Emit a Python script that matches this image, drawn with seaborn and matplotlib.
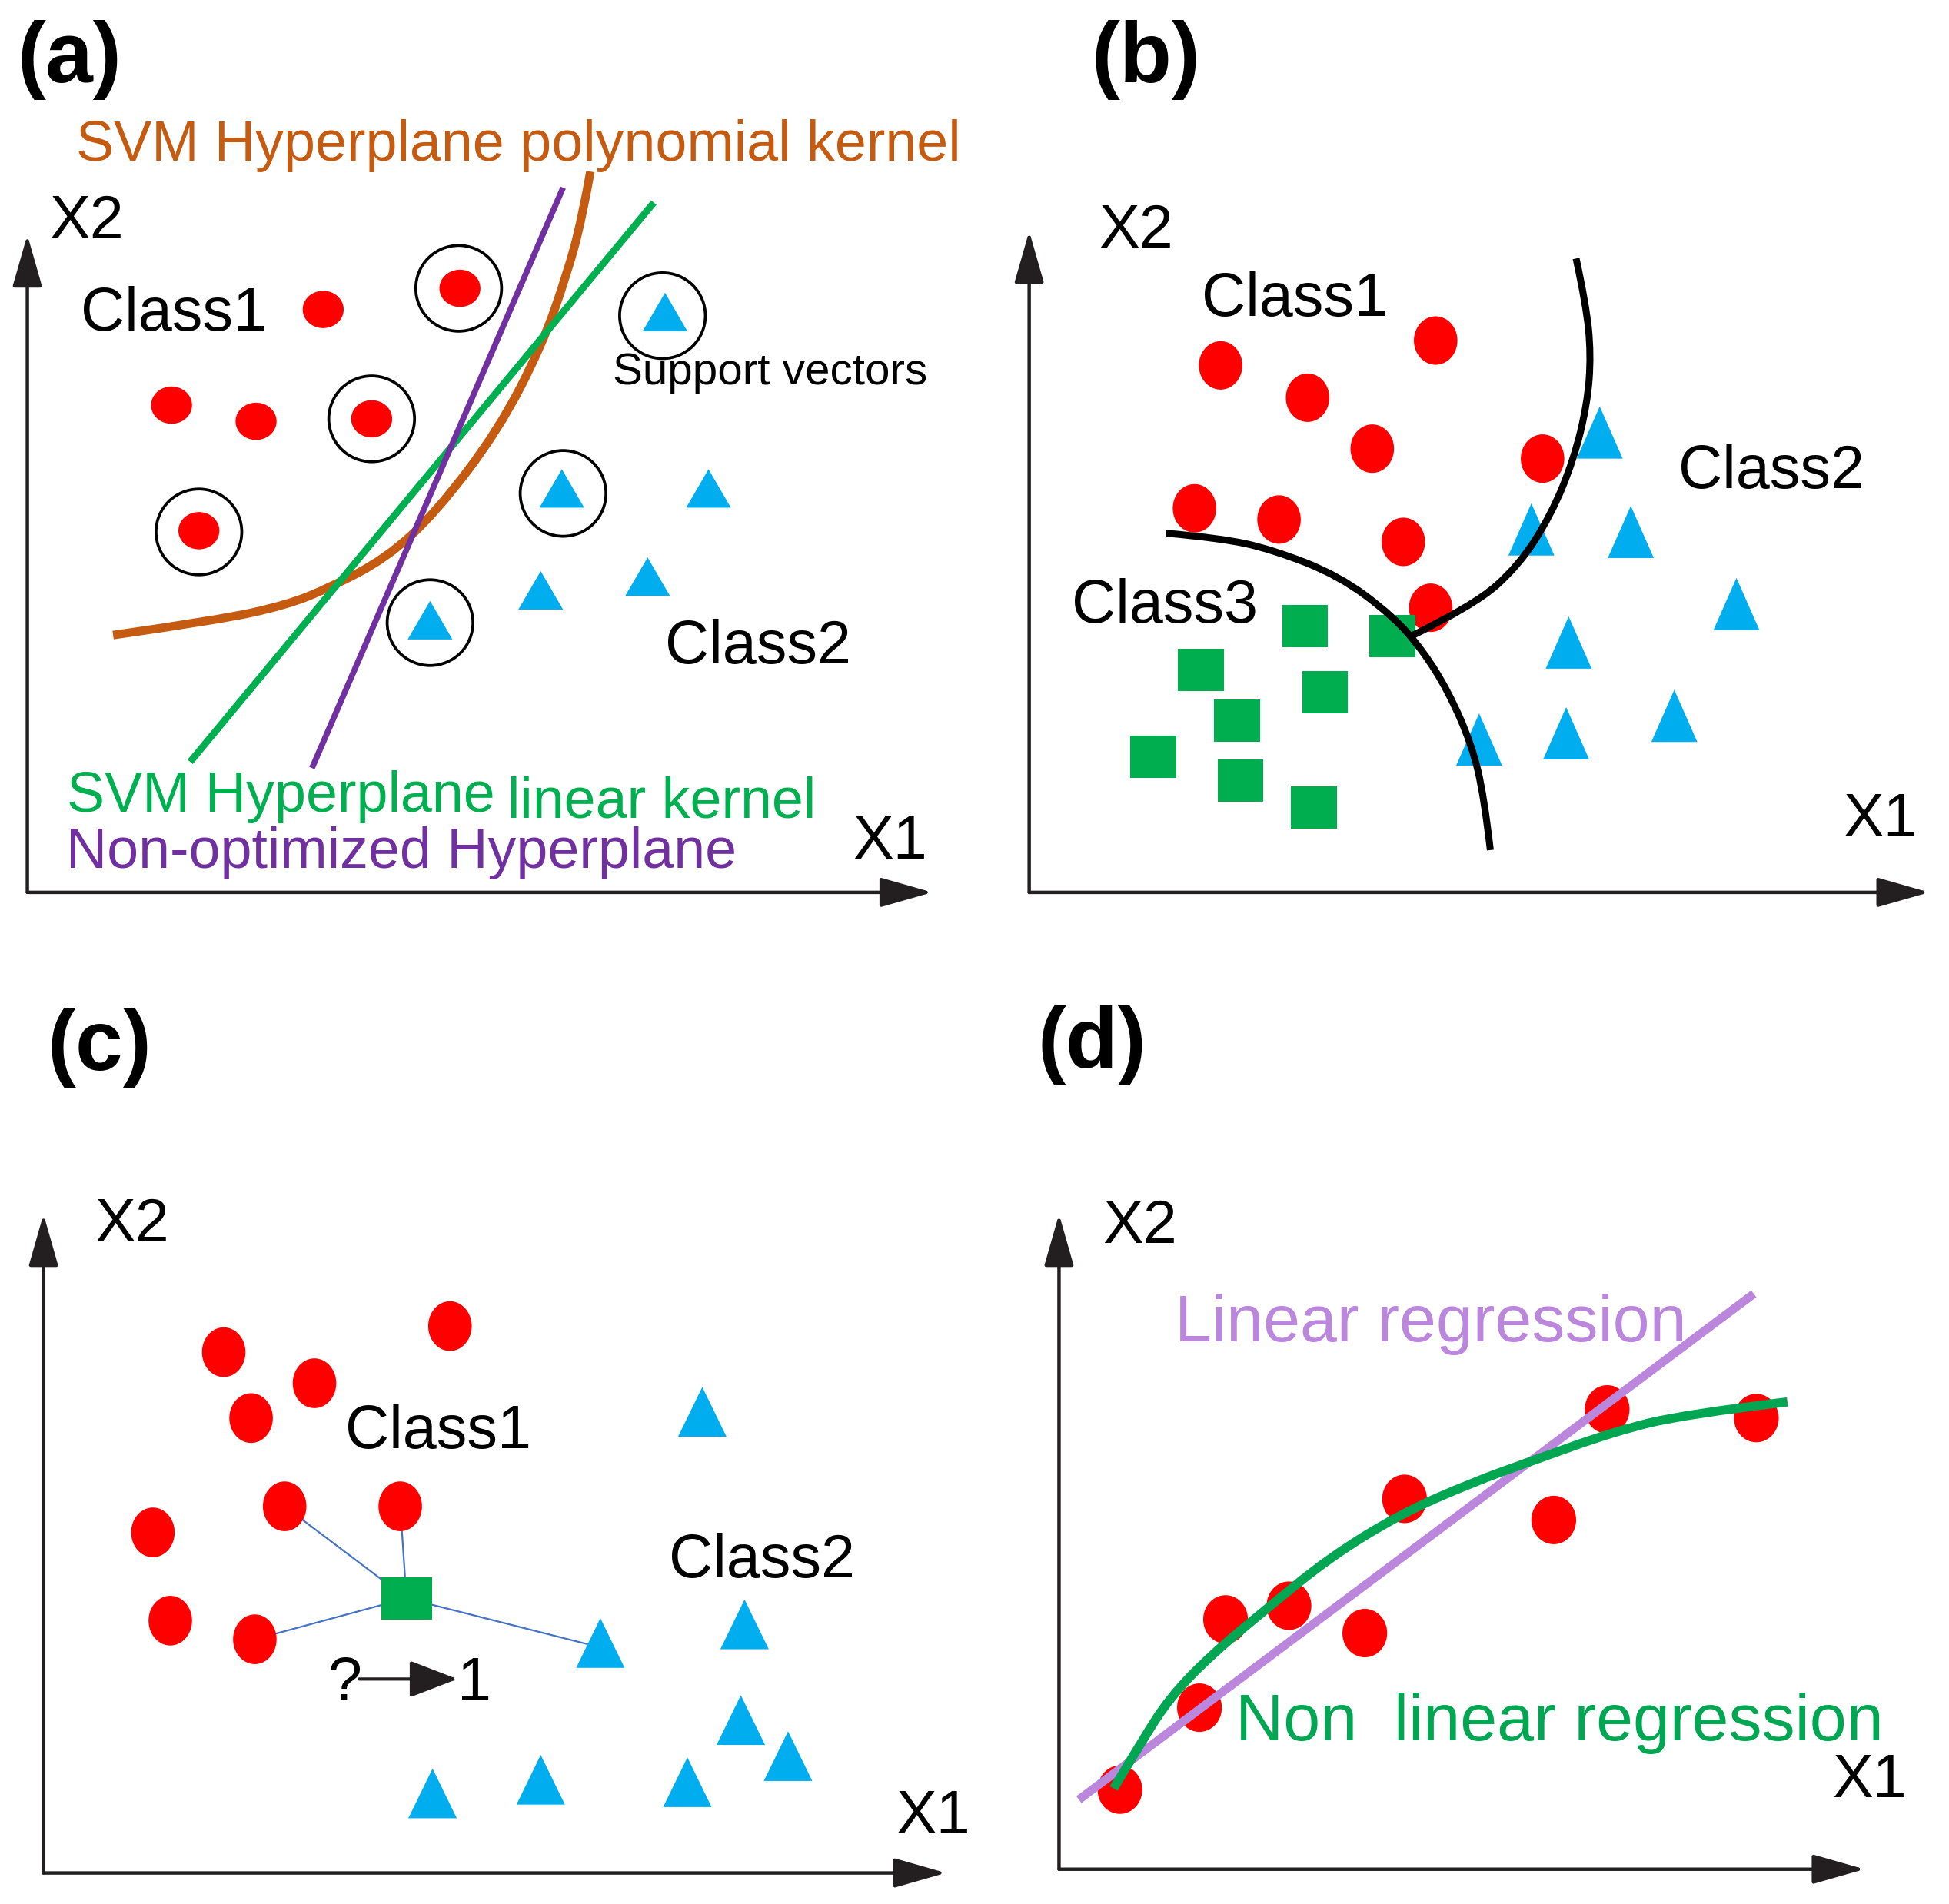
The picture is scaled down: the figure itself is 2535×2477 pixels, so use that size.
import numpy as np
import matplotlib.pyplot as plt
from matplotlib.path import Path
from matplotlib.patches import PathPatch
import seaborn as sns

sns.set_theme(style="white")
plt.rcParams['font.family'] = ['Liberation Sans', 'DejaVu Sans']

# canvas units = pixels of the reference shown at 1568 wide
W, H = 1568, 1532
K = 2535 / 1568 * 0.72  # canvas px -> points

RED = "#FF0000"
BLUE = "#00AEEF"
SQGREEN = "#00AD4F"
ORANGE = "#C55A11"
LGREEN = "#00B050"
PURPLE = "#7030A0"
PLUM = "#BA87DC"
DGREEN = "#00A651"

# ---- panel (a): SVM ----
a_red_x = [260, 370, 138, 206, 299, 160]
a_red_y = [249, 232, 326, 339, 337, 427]
a_tri_x = [535, 452, 570, 435, 521, 346]
a_tri_y = [251, 393, 393, 475, 464, 499]
a_sv_x = [369, 299, 160, 533, 453, 346]
a_sv_y = [232, 337, 428, 254, 397, 501]
a_linear_x = [153, 526]
a_linear_y = [613, 163]
a_nonopt_x = [251, 453]
a_nonopt_y = [618, 151]
a_poly_x = [91, 175, 230, 265, 311, 351, 401, 436, 456, 468, 475]
a_poly_y = [511, 499, 487, 473, 449, 412, 346, 278, 221, 177, 138]

# ---- panel (b): three classes ----
b_red_x = [982, 1155, 1052, 1104, 1241, 961, 1029, 1129, 1151]
b_red_y = [294, 274, 320, 361, 369, 409, 418, 436, 489]
b_tri_x = [1287, 1232, 1312, 1397, 1262, 1190, 1260, 1347]
b_tri_y = [348, 426, 428, 486, 517, 595, 590, 576]
b_sq_x = [1050, 1120, 966, 1066, 995, 928, 998, 1057]
b_sq_y = [504, 512, 539, 557, 580, 609, 628, 650]
b_arc1_x = [938, 982, 1023, 1077, 1121, 1145, 1165, 1184, 1194, 1199]
b_arc1_y = [429, 433, 442, 463, 496, 524, 556, 599, 641, 684]
b_arc2_x = [1268, 1276, 1280, 1277, 1266, 1248, 1222, 1186, 1135]
b_arc2_y = [208, 245, 285, 325, 370, 414, 455, 487, 512]

# ---- panel (c): kNN ----
c_red_x = [180, 362, 253, 202, 229, 322, 123, 137, 205]
c_red_y = [1088, 1067, 1113, 1141, 1212, 1212, 1233, 1304, 1319]
c_tri_x = [565, 483, 599, 596, 634, 348, 435, 553]
c_tri_y = [1136, 1322, 1307, 1384, 1413, 1443, 1432, 1434]
c_query_x = [327]
c_query_y = [1286]
c_nbr_x = [229, 322, 205, 473]
c_nbr_y = [1212, 1212, 1319, 1323]

# ---- panel (d): regression ----
d_red_x = [901, 965, 986, 1037, 1098, 1130, 1250, 1293, 1413]
d_red_y = [1440, 1374, 1303, 1292, 1314, 1206, 1223, 1134, 1141]
d_lin_x = [868, 1411]
d_lin_y = [1448, 1041]
d_nl_x = [896, 918, 941, 975, 1022, 1070, 1127, 1184, 1231, 1298, 1355, 1438]
d_nl_y = [1439, 1402, 1366, 1331, 1292, 1253, 1218, 1193, 1176, 1152, 1138, 1128]

# axis arrows: origin, x tip, y tip
axes_origin = [(22, 718), (828, 718), (35, 1507), (852, 1504)]
axes_xtip = [750, 1552, 761, 1500]
axes_ytip = [189, 186, 977, 977]

panel_labels = ["(a)", "(b)", "(c)", "(d)"]
panel_label_pos = [(14, 66), (878, 66), (38, 861), (835, 859)]


def ellipse(w, h):
    t = np.linspace(0, 2 * np.pi, 60)
    return Path(np.c_[w / 2 * np.cos(t), h / 2 * np.sin(t)], closed=True)


def triangle(w, h):
    return Path([(-w / 2, -h / 2), (w / 2, -h / 2), (0, h / 2), (-w / 2, -h / 2)], closed=True)


def rect(w, h):
    return Path([(-w / 2, -h / 2), (w / 2, -h / 2), (w / 2, h / 2), (-w / 2, h / 2), (-w / 2, -h / 2)], closed=True)


def pts(xs, ys, marker, w, h, color, ax):
    sns.scatterplot(x=xs, y=ys, marker=marker(w, h), s=(max(w, h) * K) ** 2,
                    color=color, edgecolor="none", linewidth=0, legend=False, ax=ax, zorder=4)


def line(xs, ys, color, lw, ax, z=3):
    sns.lineplot(x=xs, y=ys, sort=False, estimator=None, color=color, lw=lw,
                 solid_capstyle="butt", legend=False, ax=ax, zorder=z)


def smooth(xs, ys, color, lw, ax, z=3):
    # quadratic bezier: read points act as control points, midpoints lie on the curve
    p = np.c_[xs, ys].astype(float)
    verts = [p[0]]
    codes = [Path.MOVETO]
    for i in range(1, len(p) - 1):
        mid = (p[i] + p[i + 1]) / 2 if i < len(p) - 2 else p[i + 1]
        verts += [p[i], mid]
        codes += [Path.CURVE3, Path.CURVE3]
    ax.add_patch(PathPatch(Path(verts, codes), fill=False, edgecolor=color, lw=lw,
                           capstyle="butt", zorder=z))


def label(ax, x, y, s, size=57, color="black", **kw):
    ax.text(x, y, s, fontsize=size, color=color, ha="left", va="baseline", **kw)


fig = plt.figure(figsize=(25.35, 24.77), dpi=100)
ax = fig.add_axes([0, 0, 1, 1])
ax.set_xlim(0, W)
ax.set_ylim(H, 0)
ax.axis("off")

# axes arrows
for (ox, oy), xt, yt in zip(axes_origin, axes_xtip, axes_ytip):
    for tip in [(xt, oy), (ox, yt)]:
        ax.annotate("", xy=tip, xytext=(ox, oy),
                    arrowprops=dict(arrowstyle="-|>,head_length=4.2,head_width=1.2", mutation_scale=10,
                                    lw=3.2, color="#231F20", shrinkA=0, shrinkB=0))
for s, (x, y) in zip(panel_labels, panel_label_pos):
    label(ax, x, y, s, size=80, fontweight="bold")

# (a)
smooth(a_poly_x, a_poly_y, ORANGE, 8, ax)
line(a_linear_x, a_linear_y, LGREEN, 6.5, ax)
line(a_nonopt_x, a_nonopt_y, PURPLE, 5.5, ax)
pts(a_red_x, a_red_y, ellipse, 33, 30, RED, ax)
pts(a_tri_x, a_tri_y, triangle, 36, 31, BLUE, ax)
sns.scatterplot(x=a_sv_x, y=a_sv_y, marker="o", s=(69 * K) ** 2, color="black",
                facecolor="none", edgecolor="black", linewidth=2.7, legend=False, ax=ax, zorder=5)
label(ax, 40, 192, "X2")
label(ax, 686, 691, "X1")
label(ax, 65, 266, "Class1")
label(ax, 535, 534, "Class2")
label(ax, 493, 309, "Support vectors", size=42)
label(ax, 61, 129, "SVM Hyperplane polynomial kernel", size=53, color=ORANGE)
label(ax, 54, 653, "SVM Hyperplane", size=53, color=LGREEN)
label(ax, 408, 658, "linear kernel", size=53, color=LGREEN)
label(ax, 53, 698, "Non-optimized Hyperplane", size=53, color=PURPLE)

# (b)
pts(b_red_x, b_red_y, ellipse, 35, 39, RED, ax)
pts(b_tri_x, b_tri_y, triangle, 37, 42, BLUE, ax)
pts(b_sq_x, b_sq_y, rect, 37, 34, SQGREEN, ax)
smooth(b_arc1_x, b_arc1_y, "black", 6.5, ax, z=6)
smooth(b_arc2_x, b_arc2_y, "black", 6.5, ax, z=6)
label(ax, 884, 199, "X2")
label(ax, 1483, 673, "X1")
label(ax, 967, 254, "Class1")
label(ax, 1350, 393, "Class2")
label(ax, 862, 501, "Class3")

# (c)
for nx, ny in zip(c_nbr_x, c_nbr_y):
    line([c_query_x[0], nx], [c_query_y[0], ny], "#4472C4", 1.6, ax, z=2)
pts(c_red_x, c_red_y, ellipse, 35, 40, RED, ax)
pts(c_tri_x, c_tri_y, triangle, 39, 40, BLUE, ax)
pts(c_query_x, c_query_y, rect, 41, 34, SQGREEN, ax)
label(ax, 76, 999, "X2")
label(ax, 721, 1475, "X1")
label(ax, 278, 1165, "Class1")
label(ax, 538, 1269, "Class2")
label(ax, 264, 1368, "?")
label(ax, 368, 1368, "1")
ax.annotate("", xy=(368, 1351), xytext=(289, 1351),
            arrowprops=dict(arrowstyle="-|>,head_length=3.9,head_width=1.5", mutation_scale=10,
                            lw=3, color="#231F20", shrinkA=0, shrinkB=0))

# (d)
pts(d_red_x, d_red_y, ellipse, 36, 39, RED, ax)
line(d_lin_x, d_lin_y, PLUM, 8, ax, z=5)
smooth(d_nl_x, d_nl_y, DGREEN, 8.5, ax, z=6)
label(ax, 887, 1000, "X2")
label(ax, 1474, 1446, "X1")
label(ax, 945, 1079, "Linear regression", size=62, color=PLUM)
label(ax, 994, 1400, "Non  linear regression", size=62, color=DGREEN)

fig.savefig("out.png", dpi=100, facecolor="white")
